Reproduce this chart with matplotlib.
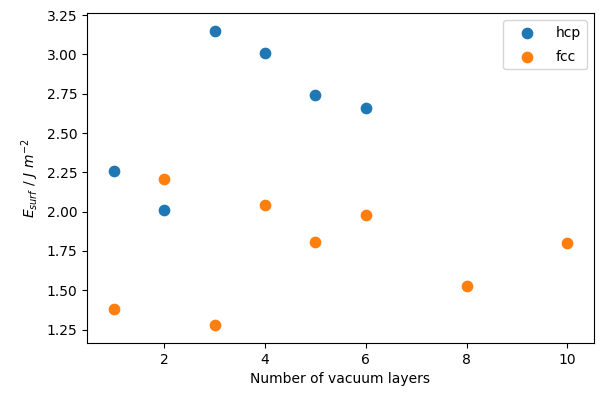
import matplotlib
matplotlib.use("Agg")
import matplotlib.pyplot as plt

layers_hcp = [1, 2, 3, 4, 5, 6]
energy_hcp = [2.26, 2.01, 3.15, 3.01, 2.74, 2.66]

layers_fcc = [1, 2, 3, 4, 5, 6, 8, 10]
energy_fcc = [1.38, 2.21, 1.28, 2.04, 1.81, 1.98, 1.53, 1.80]

fig = plt.figure(figsize=(6.07, 3.94), dpi=100)
ax = fig.add_axes([0.1433, 0.1294, 0.8347, 0.8376])

ax.scatter(layers_hcp, energy_hcp, s=55, label="hcp")
ax.scatter(layers_fcc, energy_fcc, s=55, label="fcc")

ax.set_xlim(0.47, 10.52)
ax.set_ylim(1.165, 3.263)
ax.set_xticks([2, 4, 6, 8, 10])
ax.set_yticks([1.25, 1.5, 1.75, 2.0, 2.25, 2.5, 2.75, 3.0, 3.25])

ax.set_xlabel("Number of vacuum layers")
ax.set_ylabel(r"$E_{surf}\ /\ J\ m^{-2}$")
ax.legend(loc="upper right", handlelength=2.6, labelspacing=0.75)

fig.savefig("out.png", dpi=100)
